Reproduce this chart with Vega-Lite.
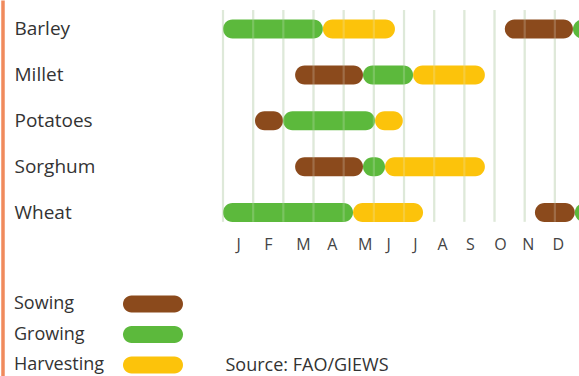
{
  "$schema": "https://vega.github.io/schema/vega-lite/v6.json",
  "width": 356,
  "height": 376,
  "autosize": {"type": "none"},
  "padding": {"left": 223, "top": 0, "right": 0, "bottom": 0},
  "background": "white",
  "config": {"view": {"stroke": null}, "font": "Open Sans"},
  "datasets": {
    "grid": [{"start": 0}, {"start": 1}, {"start": 2}, {"start": 3}, {"start": 4}, {"start": 5}, {"start": 6}, {"start": 7}, {"start": 8}, {"start": 9}, {"start": 10}, {"start": 11}],
    "bars": [
      {"crop": "Barley", "stage": "Growing", "start": 0, "end": 3.31},
      {"crop": "Barley", "stage": "Harvesting", "start": 3.31, "end": 5.7},
      {"crop": "Barley", "stage": "Sowing", "start": 9.34, "end": 11.6},
      {"crop": "Barley", "stage": "Growing", "start": 11.6, "end": 12.5},
      {"crop": "Millet", "stage": "Sowing", "start": 2.39, "end": 4.64},
      {"crop": "Millet", "stage": "Growing", "start": 4.64, "end": 6.3},
      {"crop": "Millet", "stage": "Harvesting", "start": 6.3, "end": 8.68},
      {"crop": "Potatoes", "stage": "Sowing", "start": 1.06, "end": 1.99},
      {"crop": "Potatoes", "stage": "Growing", "start": 1.99, "end": 5.04},
      {"crop": "Potatoes", "stage": "Harvesting", "start": 5.04, "end": 5.96},
      {"crop": "Sorghum", "stage": "Sowing", "start": 2.39, "end": 4.64},
      {"crop": "Sorghum", "stage": "Growing", "start": 4.64, "end": 5.37},
      {"crop": "Sorghum", "stage": "Harvesting", "start": 5.37, "end": 8.68},
      {"crop": "Wheat", "stage": "Growing", "start": 0, "end": 4.31},
      {"crop": "Wheat", "stage": "Harvesting", "start": 4.31, "end": 6.63},
      {"crop": "Wheat", "stage": "Sowing", "start": 10.34, "end": 11.66},
      {"crop": "Wheat", "stage": "Growing", "start": 11.66, "end": 12.5}
    ]
  },
  "encoding": {
    "x": {
      "field": "start",
      "type": "quantitative",
      "scale": {"domain": [0, 11.8], "nice": false, "zero": false},
      "axis": {
        "orient": "bottom",
        "offset": -140,
        "values": [0.5, 1.49, 2.65, 3.61, 4.7, 5.47, 6.36, 7.26, 8.18, 9.18, 10.1, 11.1],
        "labelExpr": "['J','F','M','A','M','J','J','A','S','O','N','D'][floor(datum.value)]",
        "domain": false,
        "ticks": false,
        "tickSize": 0,
        "grid": false,
        "labelPadding": 8,
        "labelBaseline": "middle",
        "labelFontSize": 16,
        "labelColor": "#444444",
        "labelFont": "Open Sans",
        "labelFlush": false,
        "labelOverlap": false,
        "title": "Source: FAO/GIEWS",
        "titleX": 2,
        "titleY": 129,
        "titleAlign": "left",
        "titleBaseline": "middle",
        "titleFontSize": 18,
        "titleFontWeight": "normal",
        "titleColor": "#333333",
        "titleFont": "Open Sans"
      }
    }
  },
  "layer": [
    {
      "data": {"name": "grid"},
      "mark": {"type": "rule", "color": "#dce8d6", "strokeWidth": 2.2},
      "encoding": {
        "y": {"datum": "Barley", "type": "nominal", "bandPosition": 0.086, "title": null},
        "y2": {"datum": "Wheat", "bandPosition": 0.7}
      }
    },
    {
      "data": {"name": "bars"},
      "mark": {"type": "bar", "height": 19, "cornerRadius": 9.5, "clip": true},
      "encoding": {
        "x2": {"field": "end"},
        "y": {
          "field": "crop",
          "type": "nominal",
          "sort": null,
          "scale": {"domain": ["Barley", "Millet", "Potatoes", "Sorghum", "Wheat", " ", "  ", "   "], "paddingInner": 0, "paddingOuter": 0.096, "align": 0.69},
          "axis": {
            "title": null,
            "orient": "left",
            "offset": 220.5,
            "values": ["Barley", "Millet", "Potatoes", "Sorghum", "Wheat"],
            "domainColor": "#f08a5c",
            "domainWidth": 3.5,
            "ticks": false,
            "tickSize": 0,
            "grid": false,
            "labelAlign": "left",
            "labelPadding": -11.5,
            "labelFontSize": 19,
            "labelColor": "#333333",
            "labelFont": "Open Sans",
            "labelBaseline": "middle"
          }
        },
        "color": {
          "field": "stage",
          "type": "nominal",
          "scale": {"domain": ["Sowing", "Growing", "Harvesting"], "range": ["#8b4a1c", "#5cb93c", "#fcc30b"]},
          "legend": {
            "orient": "none",
            "legendX": -209,
            "legendY": 295,
            "title": null,
            "direction": "vertical",
            "padding": 0,
            "symbolType": "M-2.53,-1L2.53,-1A1,1,0,0,1,2.53,1L-2.53,1A1,1,0,0,1,-2.53,-1Z",
            "symbolSize": 289,
            "symbolStrokeWidth": 0,
            "symbolOpacity": 1,
            "symbolOffset": 130,
            "labelOffset": -148,
            "labelFontSize": 18,
            "labelColor": "#333333",
            "labelFont": "Open Sans",
            "rowPadding": 12.5
          }
        }
      }
    },
    {
      "data": {"name": "grid"},
      "mark": {"type": "rule", "color": "#e8efe4", "strokeWidth": 2.2, "opacity": 0.22},
      "encoding": {
        "y": {"datum": "Barley", "type": "nominal", "bandPosition": 0.086, "title": null},
        "y2": {"datum": "Wheat", "bandPosition": 0.7}
      }
    }
  ]
}
